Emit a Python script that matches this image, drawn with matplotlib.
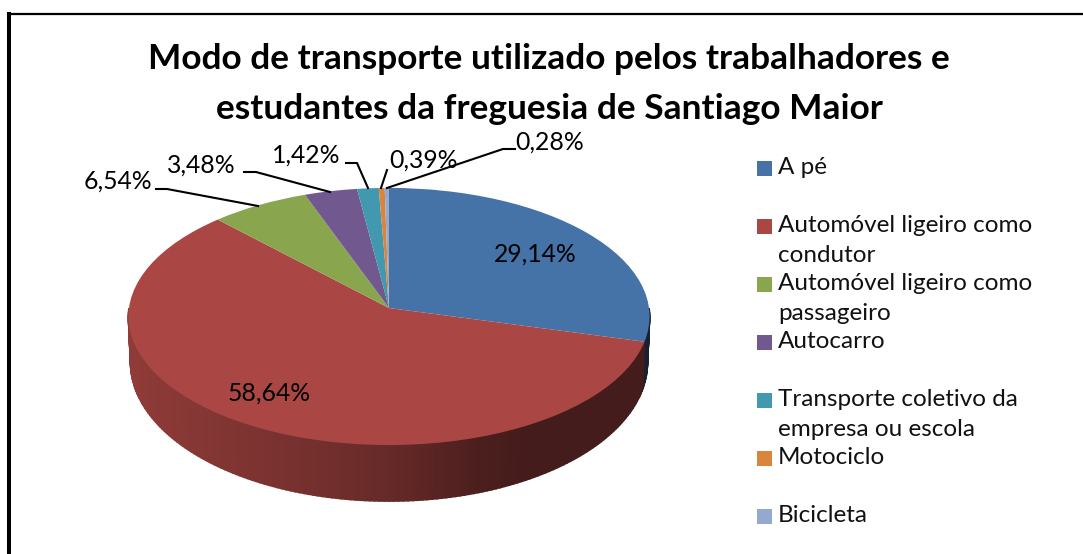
import matplotlib
matplotlib.use("Agg")
import matplotlib.pyplot as plt
import numpy as np
from matplotlib.patches import Rectangle
from matplotlib.transforms import Transform

TITLE = "Modo de transporte utilizado pelos trabalhadores e\nestudantes da freguesia de Santiago Maior"
categories = ["A pé", "Automóvel ligeiro como\ncondutor", "Automóvel ligeiro como\npassageiro",
              "Autocarro", "Transporte coletivo da\nempresa ou escola", "Motociclo", "Bicicleta"]
values = [29.14, 58.64, 6.54, 3.48, 1.42, 0.39, 0.28]
value_labels = ["29,14%", "58,64%", "6,54%", "3,48%", "1,42%", "0,39%", "0,28%"]
colors = ["#4572A7", "#AA4643", "#89A54E", "#71588F", "#4198AF", "#DB843D", "#93A9CF"]

plt.rcParams["font.family"] = ["Lato", "DejaVu Sans"]

# perspective of the pie, in pixels of the picture
CX, CY = 389, 308
RX, RY = 260, 128
K = 0.066


class Perspective(Transform):
    """Maps the unit circle of the pie to the tilted disc"""
    input_dims = 2
    output_dims = 2

    def transform_non_affine(self, xy):
        xy = np.asarray(xy, dtype=float)
        u, v = xy[:, 0], -xy[:, 1]
        d = 1 - K * v
        return np.column_stack([CX + RX * u / d, CY + RY * v / d])


def side_wall(ax, persp):
    """Draws the shaded rim below the front of the pie"""
    edges = np.cumsum([0] + values) / sum(values) * 360
    for i, color in enumerate(colors):
        start, end = max(edges[i], 90), min(edges[i + 1], 270)
        if end <= start:
            continue
        steps = np.linspace(start, end, int(end - start) + 2)
        for a, b in zip(steps[:-1], steps[1:]):
            th = np.radians([a, b])
            top = persp.transform(np.column_stack([np.sin(th), np.cos(th)]))
            low = top.copy()
            low[:, 1] += 45 - 11 * np.cos(th)
            low[:, 0] = CX + (low[:, 0] - CX) * 0.992
            u = np.sin(np.radians((a + b) / 2))
            shade = np.interp(u, [-1, -0.34, 0, 0.31, 0.5, 1], [0.85, 0.70, 0.60, 0.45, 0.40, 0.40])
            if i == 0:
                shade = 0.30
            rgb = np.array(matplotlib.colors.to_rgb(color)) * shade
            ax.fill(np.r_[top[:, 0], low[::-1, 0]], np.r_[top[:, 1], low[::-1, 1]],
                    facecolor=rgb, edgecolor=rgb, lw=1.2, zorder=1)


def main():
    fig = plt.figure(figsize=(10.83, 5.54), dpi=100)
    ax = fig.add_axes([0, 0, 1, 1])
    persp = Perspective()

    wedges, _ = ax.pie(values, colors=colors, startangle=90, counterclock=False)
    for w in wedges:
        w.set_transform(persp + ax.transData)
        w.set_zorder(2)
    ax.set_aspect("auto")
    ax.set_xlim(0, 1083)
    ax.set_ylim(554, 0)
    ax.axis("off")
    side_wall(ax, persp)

    # chart border
    ax.plot([9, 9], [14, 554], color="black", lw=2.9, solid_capstyle="projecting", zorder=5)
    ax.plot([9, 1083], [14, 14], color="black", lw=1.6, solid_capstyle="butt", zorder=5)

    ax.text(549, 84, TITLE, ha="center", va="center", fontsize=25.4, fontweight="bold",
            linespacing=1.66, color="black")

    # value labels and their leader lines
    label_pos = [(535, 254), (269, 393), (118, 181), (201, 165), (306, 155), (423, 160), (550, 142)]
    for text, (x, y) in zip(value_labels, label_pos):
        ax.text(x, y, text, ha="center", va="center", fontsize=17.8, zorder=6)
    leaders = [([156, 167, 258], [189, 189, 206]), ([244, 256, 330], [172, 172, 192]),
               ([346, 357, 368], [163, 163, 188]), ([387, 381], [170, 188]),
               ([515, 503, 387], [149, 149, 188])]
    for xs, ys in leaders:
        ax.plot(xs, ys, color="black", lw=1.5, zorder=6)

    # legend
    legend_y = [168, 226, 284, 342, 400, 458, 516]
    for name, color, y in zip(categories, colors, legend_y):
        ax.add_patch(Rectangle((757, y - 7.5), 15, 15, color=color, lw=0))
        ax.text(778, y - 10.5, name, ha="left", va="top", fontsize=17.5,
                linespacing=1.52, color="#111111")

    fig.savefig("out.png", dpi=100)


if __name__ == "__main__":
    main()
